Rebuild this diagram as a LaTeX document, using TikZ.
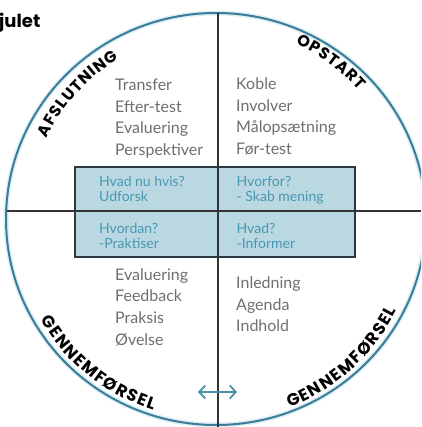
\documentclass[tikz,border=0pt]{standalone}
\usepackage{fontspec}
\setmainfont{Lato}
\newfontfamily\popfont{Poppins}
\usetikzlibrary{decorations.text,arrows.meta,shapes.geometric}
\definecolor{ringc}{HTML}{3D7C99}
\definecolor{haloc}{HTML}{DCEFF5}
\definecolor{linec}{HTML}{333333}
\definecolor{boxfill}{HTML}{B9D8E2}
\definecolor{boxline}{HTML}{2C3A40}
\definecolor{boxtext}{HTML}{4A97B2}
\definecolor{listc}{HTML}{6E6E6E}
\definecolor{arrowc}{HTML}{4A90AB}
\newcommand\arcfont{\popfont\bfseries\fontsize{16}{18}\selectfont\kern1.0pt}
\newcommand\arcfontb{\popfont\bfseries\fontsize{16.8}{19}\selectfont\kern1.4pt}
\begin{document}
\begin{tikzpicture}[x=1pt,y=-1pt,
  listtext/.style={anchor=base west, text=listc, font=\fontsize{16}{19}\selectfont, inner sep=0pt},
  boxtxt/.style={anchor=base west, text=boxtext, font=\fontsize{14}{16}\selectfont, inner sep=0pt},
  crossline/.style={draw=linec, line width=2pt},
  ringshape/.style={ellipse, minimum width=420pt, minimum height=412pt, inner sep=0pt},
  arclabel/.style={decorate, decoration={text along path, text align=center, text color=black}},
]
\useasboundingbox (0,0) rectangle (421,427);
\clip (0,0) rectangle (421,427);

% ring
\node (ringhalo) [ringshape, draw=haloc, line width=5pt] at (216,219) {};
\node (ring) [ringshape, draw=ringc, line width=2pt] at (216,219) {};

% central box
\node (qbox) [draw=boxline, fill=boxfill, line width=2.4pt, minimum width=280pt, minimum height=90pt, inner sep=0pt] at (215,212) {};

% cross lines
\coordinate (vtop) at (218,13);
\coordinate (vbot) at (218,427);
\coordinate (hl) at (7,211);
\coordinate (hr) at (421,211);
\draw[crossline] (vtop) -- (vbot);
\draw[crossline] (hl) -- (hr);

% title
\node (title) [anchor=base west, inner sep=0pt, font=\popfont\bfseries\fontsize{18}{20}\selectfont] at (-1,28) {julet};

% lists
\node (tl1) [listtext] at (115,91) {Transfer};
\node (tl2) [listtext] at (115,112.5) {Efter-test};
\node (tl3) [listtext] at (115,134) {Evaluering};
\node (tl4) [listtext] at (115,155.5) {Perspektiver};

\node (tr1) [listtext] at (236,90) {Koble};
\node (tr2) [listtext] at (236,111.5) {Involver};
\node (tr3) [listtext] at (236,133) {Målopsætning};
\node (tr4) [listtext] at (236,154.5) {Før-test};

\node (bl1) [listtext] at (115,280) {Evaluering};
\node (bl2) [listtext] at (115,301.7) {Feedback};
\node (bl3) [listtext] at (115,323.3) {Praksis};
\node (bl4) [listtext] at (115,345) {Øvelse};

\node (br1) [listtext] at (236,288) {Inledning};
\node (br2) [listtext] at (236,310) {Agenda};
\node (br3) [listtext] at (236,331.7) {Indhold};

% box texts
\node (q1a) [boxtxt] at (99,186.5) {Hvad nu hvis?};
\node (q1b) [boxtxt] at (99,201.5) {Udforsk};
\node (q2a) [boxtxt] at (236.5,186.5) {Hvorfor?};
\node (q2b) [boxtxt] at (236.5,201.5) {- Skab mening};
\node (q3a) [boxtxt] at (99,233) {Hvordan?};
\node (q3b) [boxtxt] at (99,248) {-Praktiser};
\node (q4a) [boxtxt] at (236.5,233) {Hvad?};
\node (q4b) [boxtxt] at (236.5,248) {-Informer};

% arrow
\coordinate (arrL) at (198,392);
\coordinate (arrR) at (237,392);
\draw[arrowc, line width=1.8pt, {Straight Barb[length=6pt,width=13pt]}-{Straight Barb[length=6pt,width=13pt]}] (arrL) -- (arrR);

% arc labels
\begin{scope}[shift={(215,218)}, yscale=-1]
  \path[arclabel, decoration={text={|\arcfont|AFSLUTNING}}] (163:186) arc[start angle=163, end angle=113, radius=186];
  \path[arclabel, decoration={text={|\arcfont|OPSTART}}] (80:192) arc[start angle=80, end angle=27, radius=192];
  \path[arclabel, decoration={text={|\arcfontb|GENNEMFØRSEL}}] (185:202) arc[start angle=185, end angle=277, radius=202];
  \path[arclabel, decoration={text={|\arcfontb|GENNEMFØRSEL}}] (265:204) arc[start angle=265, end angle=359, radius=204];
\end{scope}
\end{tikzpicture}
\end{document}
